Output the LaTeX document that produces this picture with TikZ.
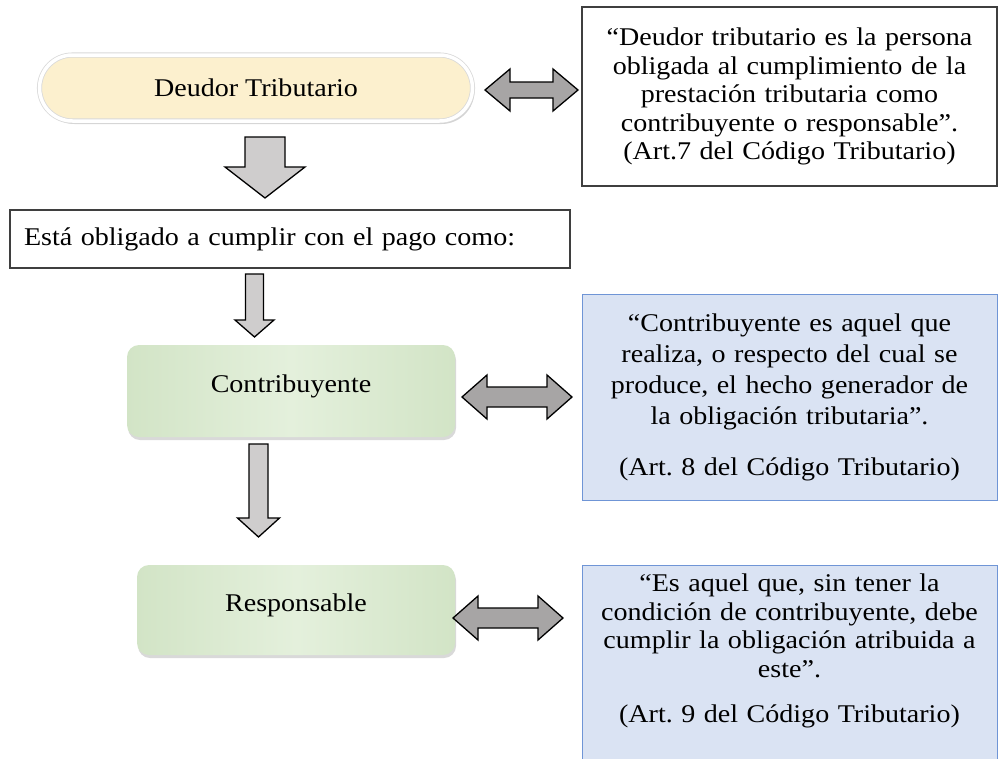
\documentclass[tikz,border=0pt]{standalone}
\usepackage{fontspec}
\setmainfont{Liberation Serif}[FakeStretch=1.1]
\usetikzlibrary{shadows}
\frenchspacing

\definecolor{deudorfill}{HTML}{FCF0CE}
\definecolor{greenfill}{HTML}{E4F0DC}
\definecolor{greenedge}{HTML}{D2E4C6}
\definecolor{bluefill}{HTML}{DAE3F3}
\definecolor{blueline}{HTML}{6F95D6}
\definecolor{boxgray}{HTML}{3F3F3F}
\definecolor{arrowgray}{HTML}{A7A5A5}
\definecolor{downgray}{HTML}{CFCDCD}

\tikzset{
  txt/.style={font=\fontsize{25.5}{28.5}\selectfont},
  deudorbox/.style={txt, rounded corners=33pt, minimum width=433pt, minimum height=66pt,
    fill=deudorfill, draw=black!15, line width=.8pt, double=white, double distance=3.5pt,
    drop shadow={shadow xshift=2pt, shadow yshift=-3pt, opacity=.35}},
  greenbox/.style={txt, rounded corners=12pt, left color=greenedge, right color=greenedge,
    middle color=greenfill, text depth=15pt,
    drop shadow={shadow xshift=1pt, shadow yshift=-3pt, opacity=.3}},
  defbox/.style={txt, align=center, text width=395pt, inner xsep=10pt, minimum width=415pt},
  whitebox/.style={defbox, draw=boxgray, line width=1.2pt, fill=white},
  bluebox/.style={defbox, draw=blueline, line width=1pt, fill=bluefill},
  blockarrow/.style={draw=black, line width=1.3pt, line join=miter}
}

\begin{document}
\begin{tikzpicture}[x=1pt, y=-1pt]
\useasboundingbox (0,0) rectangle (998,758);

% left column
\node[deudorbox] (deudor) at (256,88) {Deudor Tributario};
\node[txt, draw=boxgray, line width=1.2pt, text width=532pt, inner xsep=14pt,
  minimum height=58pt, align=left] (esta) at (290,239) {Está obligado a cumplir con el pago como:};
\node[greenbox, minimum width=328pt, minimum height=92pt] (contrib) at (291,391) {Contribuyente};
\node[greenbox, minimum width=318pt, minimum height=90pt] (resp) at (296,610) {Responsable};

% right column
\node[whitebox, minimum height=179pt] (def1) at (789.5,96.5)
  {“Deudor tributario es la persona\\ obligada al cumplimiento de la\\ prestación tributaria como\\ contribuyente o responsable”.\\ (Art.7 del Código Tributario)};
\node[bluebox, minimum height=206pt, font=\fontsize{25.5}{31}\selectfont] (def2) at (789.5,397)
  {“Contribuyente es aquel que\\ realiza, o respecto del cual se\\ produce, el hecho generador de\\ la obligación tributaria”.\\[20pt] (Art. 8 del Código Tributario)};
\node[bluebox, minimum height=210pt, anchor=north] (def3) at (789.5,565)
  {“Es aquel que, sin tener la\\ condición de contribuyente, debe\\ cumplir la obligación atribuida a\\ este”.\\[17pt] (Art. 9 del Código Tributario)\\[16pt]\mbox{}};

% down arrows: x / top / head / tip / shaft / head half width
\foreach \x/\ya/\yb/\yc/\s/\h in {265/137/167/198/20/40, 254.5/274/320/337/9/19.5, 258.5/444/518/537/9.5/21}
{
    \draw[blockarrow, fill=downgray] ({\x-\s},\ya) -- ({\x+\s},\ya) -- ({\x+\s},\yb) -- ({\x+\h},\yb)
      -- (\x,\yc) -- ({\x-\h},\yb) -- ({\x-\s},\yb) -- cycle;
}

% double arrows: left / right / y / shaft / head half width / head length
\foreach \l/\r/\y/\s/\h/\L in {485/578/90/8/21/25, 462/572/397/10/22/25, 453/563/618/10/22/25}
{
    \draw[blockarrow, fill=arrowgray] (\l,\y) -- ({\l+\L},{\y-\h}) -- ({\l+\L},{\y-\s}) -- ({\r-\L},{\y-\s})
      -- ({\r-\L},{\y-\h}) -- (\r,\y) -- ({\r-\L},{\y+\h}) -- ({\r-\L},{\y+\s}) -- ({\l+\L},{\y+\s})
      -- ({\l+\L},{\y+\h}) -- cycle;
}
\end{tikzpicture}
\end{document}
